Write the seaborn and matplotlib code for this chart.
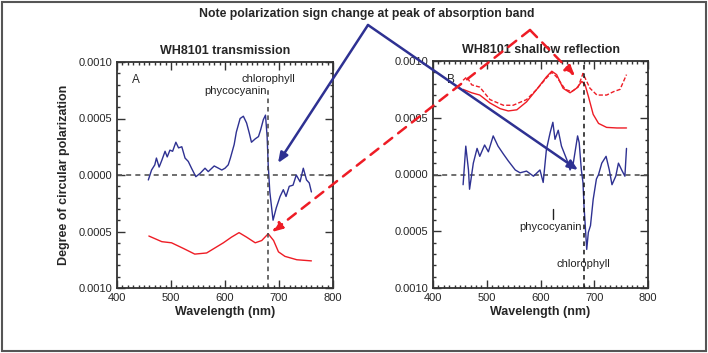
import numpy as np
import pandas as pd
import matplotlib
matplotlib.use("Agg")
import matplotlib.pyplot as plt
import seaborn as sns
from matplotlib.patches import FancyArrowPatch, Rectangle
from matplotlib.ticker import MultipleLocator, FixedLocator, FixedFormatter

# --- data (values in units of 1e-3 degree of circular polarization) ---
trans_wl = [458, 464, 470, 473, 478, 483, 489, 493, 498, 503, 509, 514, 520, 526, 532, 538,
            546, 554, 563, 569, 580, 588, 594, 600, 606, 610, 617, 621, 628, 634, 640, 645,
            649, 656, 662, 666, 671, 675, 678, 680, 683, 689, 695, 702, 708, 713, 719, 726,
            732, 739, 745, 751, 756, 760]
trans_pol = [-0.044, 0.044, 0.09, 0.15, 0.07, 0.13, 0.21, 0.16, 0.22, 0.21, 0.29, 0.24, 0.25,
             0.15, 0.12, 0.06, -0.015, 0.015, 0.06, 0.03, 0.08, 0.06, 0.044, 0.06, 0.09, 0.15,
             0.27, 0.38, 0.50, 0.52, 0.46, 0.37, 0.29, 0.32, 0.34, 0.40, 0.49, 0.53, 0.34,
             0.09, -0.15, -0.40, -0.29, -0.19, -0.13, -0.19, -0.10, -0.09, 0.0, -0.06, 0.06,
             -0.044, -0.07, -0.15]

trans_abs_wl = [459, 483, 501, 523, 544, 566, 597, 612, 626, 640, 656, 668, 680, 690,
                699, 711, 733, 760]
trans_abs = [-0.54, -0.59, -0.60, -0.65, -0.70, -0.69, -0.60, -0.55, -0.51, -0.55, -0.60,
             -0.58, -0.52, -0.58, -0.68, -0.72, -0.75, -0.76]

refl_wl = [456, 461, 466, 468, 475, 482, 487, 496, 503, 512, 521, 531, 540, 553, 562, 574,
           587, 599, 605, 611, 618, 623, 627, 633, 639, 649, 655, 661, 669, 672, 676, 679,
           681, 686, 689, 693, 698, 704, 708, 714, 722, 728, 733, 740, 745, 751, 757, 760]
refl_pol = [-0.09, 0.25, 0.04, -0.13, 0.10, 0.23, 0.16, 0.26, 0.20, 0.34, 0.25, 0.18, 0.12,
            0.04, 0.015, 0.03, -0.015, 0.04, -0.07, 0.22, 0.37, 0.46, 0.31, 0.39, 0.25, 0.13,
            0.04, 0.10, 0.34, 0.28, 0.04, -0.07, -0.28, -0.66, -0.51, -0.45, -0.22, -0.04,
            0.0, 0.10, 0.16, 0.04, -0.09, -0.015, 0.10, 0.04, -0.015, 0.23]

refl_abs_wl = [456, 472, 487, 506, 525, 540, 556, 574, 593, 611, 621, 630, 642, 655, 667,
               677, 683, 689, 698, 708, 723, 742, 760]
refl_abs = [0.75, 0.72, 0.70, 0.63, 0.58, 0.56, 0.57, 0.64, 0.75, 0.86, 0.91, 0.88, 0.76,
            0.72, 0.76, 0.82, 0.79, 0.69, 0.53, 0.45, 0.415, 0.41, 0.41]

refl_abs2_wl = [456, 463, 472, 487, 506, 531, 549, 574, 593, 611, 621, 630, 646, 658, 670,
                679, 685, 692, 705, 723, 736, 748, 760]
refl_abs2 = [0.83, 0.86, 0.79, 0.77, 0.66, 0.61, 0.61, 0.66, 0.75, 0.85, 0.90, 0.86, 0.75,
             0.73, 0.77, 0.89, 0.83, 0.76, 0.70, 0.70, 0.73, 0.75, 0.88]

ytick_vals = [-1.0, -0.5, 0.0, 0.5, 1.0]
ytick_labels = ["0.0010", "0.0005", "0.0000", "0.0005", "0.0010"]

BLUE = "#2e3192"
RED = "#ee1c25"
W, H = 708, 353

sns.set_style("ticks")
plt.rcParams["font.family"] = ["Liberation Sans", "DejaVu Sans"]

fig = plt.figure(figsize=(W / 100, H / 100), dpi=100)


def px(x, y):
    return (x / W, 1 - y / H)


def style_axes(ax):
    ax.set_xlim(400, 800)
    ax.set_ylim(-1.0, 1.0)
    ax.xaxis.set_major_locator(MultipleLocator(100))
    ax.xaxis.set_minor_locator(MultipleLocator(10))
    ax.yaxis.set_major_locator(FixedLocator(ytick_vals))
    ax.yaxis.set_major_formatter(FixedFormatter(ytick_labels))
    ax.yaxis.set_minor_locator(MultipleLocator(0.1))
    ax.tick_params(which="both", direction="in", top=True, right=True, labelsize=8,
                   color="#333333", width=1)
    ax.tick_params(which="major", length=6)
    ax.tick_params(which="minor", length=2.5)
    for s in ax.spines.values():
        s.set_color("#333333")
        s.set_linewidth(1.3)
    ax.set_xlabel("Wavelength (nm)", fontsize=9, fontweight="bold", labelpad=2)
    ax.set_ylabel("")
    ax.axhline(0, color="#555555", lw=1.2, ls=(0, (3, 2.5)), zorder=1)


# left panel: transmission
axA = fig.add_axes([117 / W, 1 - 288 / H, 216 / W, 226 / H])
df_tp = pd.DataFrame({"wl": trans_wl, "pol": trans_pol})
df_ta = pd.DataFrame({"wl": trans_abs_wl, "pol": trans_abs})
sns.lineplot(data=df_tp, x="wl", y="pol", ax=axA, color=BLUE, lw=1)
sns.lineplot(data=df_ta, x="wl", y="pol", ax=axA, color=RED, lw=1)
style_axes(axA)
axA.axvline(680, ymin=0, ymax=0.885, color="#444444", lw=1.1, ls=(0, (3, 2.5)))
axA.set_title("WH8101 transmission", fontsize=9, fontweight="bold", pad=6)
axA.set_ylabel("Degree of circular polarization", fontsize=9, fontweight="bold", labelpad=6)
axA.text(428, 0.84, "A", fontsize=8.5, va="center")
axA.text(680, 0.85, "chlorophyll", fontsize=8, ha="center", va="center", color="#222222")
axA.text(677, 0.74, "phycocyanin", fontsize=8, ha="right", va="center", color="#222222")

# right panel: shallow reflection
axB = fig.add_axes([433 / W, 1 - 288 / H, 215 / W, 227 / H])
df_rp = pd.DataFrame({"wl": refl_wl, "pol": refl_pol})
df_ra = pd.DataFrame({"wl": refl_abs_wl, "pol": refl_abs})
df_ra2 = pd.DataFrame({"wl": refl_abs2_wl, "pol": refl_abs2})
sns.lineplot(data=df_rp, x="wl", y="pol", ax=axB, color=BLUE, lw=1)
sns.lineplot(data=df_ra, x="wl", y="pol", ax=axB, color=RED, lw=1)
sns.lineplot(data=df_ra2, x="wl", y="pol", ax=axB, color=RED, lw=1, ls=(0, (3, 1.5)))
style_axes(axB)
axB.axvline(680, color="#111111", lw=1.1, ls=(0, (3, 2.5)))
axB.set_title("WH8101 shallow reflection", fontsize=9, fontweight="bold", pad=6)
axB.text(426, 0.83, "B", fontsize=8.5, va="center")
axB.plot([623, 623], [-0.30, -0.39], color="#222222", lw=1)
axB.text(618, -0.465, "phycocyanin", fontsize=8, ha="center", va="center", color="#222222")
axB.text(680, -0.79, "chlorophyll", fontsize=8, ha="center", va="center", color="#222222")

# overall note and arrows
fig.text(367 / W, 1 - 14 / H, "Note polarization sign change at peak of absorption band",
         ha="center", va="center", fontsize=8.8, fontweight="bold")

for end in [(278, 163), (578, 170)]:
    fig.add_artist(FancyArrowPatch(px(368, 25), px(*end), transform=fig.transFigure,
                                   arrowstyle="-|>,head_length=6,head_width=2.5",
                                   color=BLUE, lw=1.8, shrinkA=0, shrinkB=0))

fig.add_artist(FancyArrowPatch(px(530, 30), px(272, 232), transform=fig.transFigure,
                               arrowstyle="-|>,head_length=6,head_width=2.5",
                               color=RED, lw=1.8, ls=(0, (4, 3)), shrinkA=0, shrinkB=0))
fig.add_artist(FancyArrowPatch(px(530, 30), px(575, 76), transform=fig.transFigure,
                               arrowstyle="-|>,head_length=6,head_width=2.5",
                               color=RED, lw=1.8, ls=(0, (4, 3)), shrinkA=0, shrinkB=0))

fig.add_artist(Rectangle((2 / W, 2 / H), 1 - 4 / W, 1 - 4 / H, transform=fig.transFigure,
                         fill=False, edgecolor="#555555", lw=1.5))

fig.savefig("out.png", dpi=100)
